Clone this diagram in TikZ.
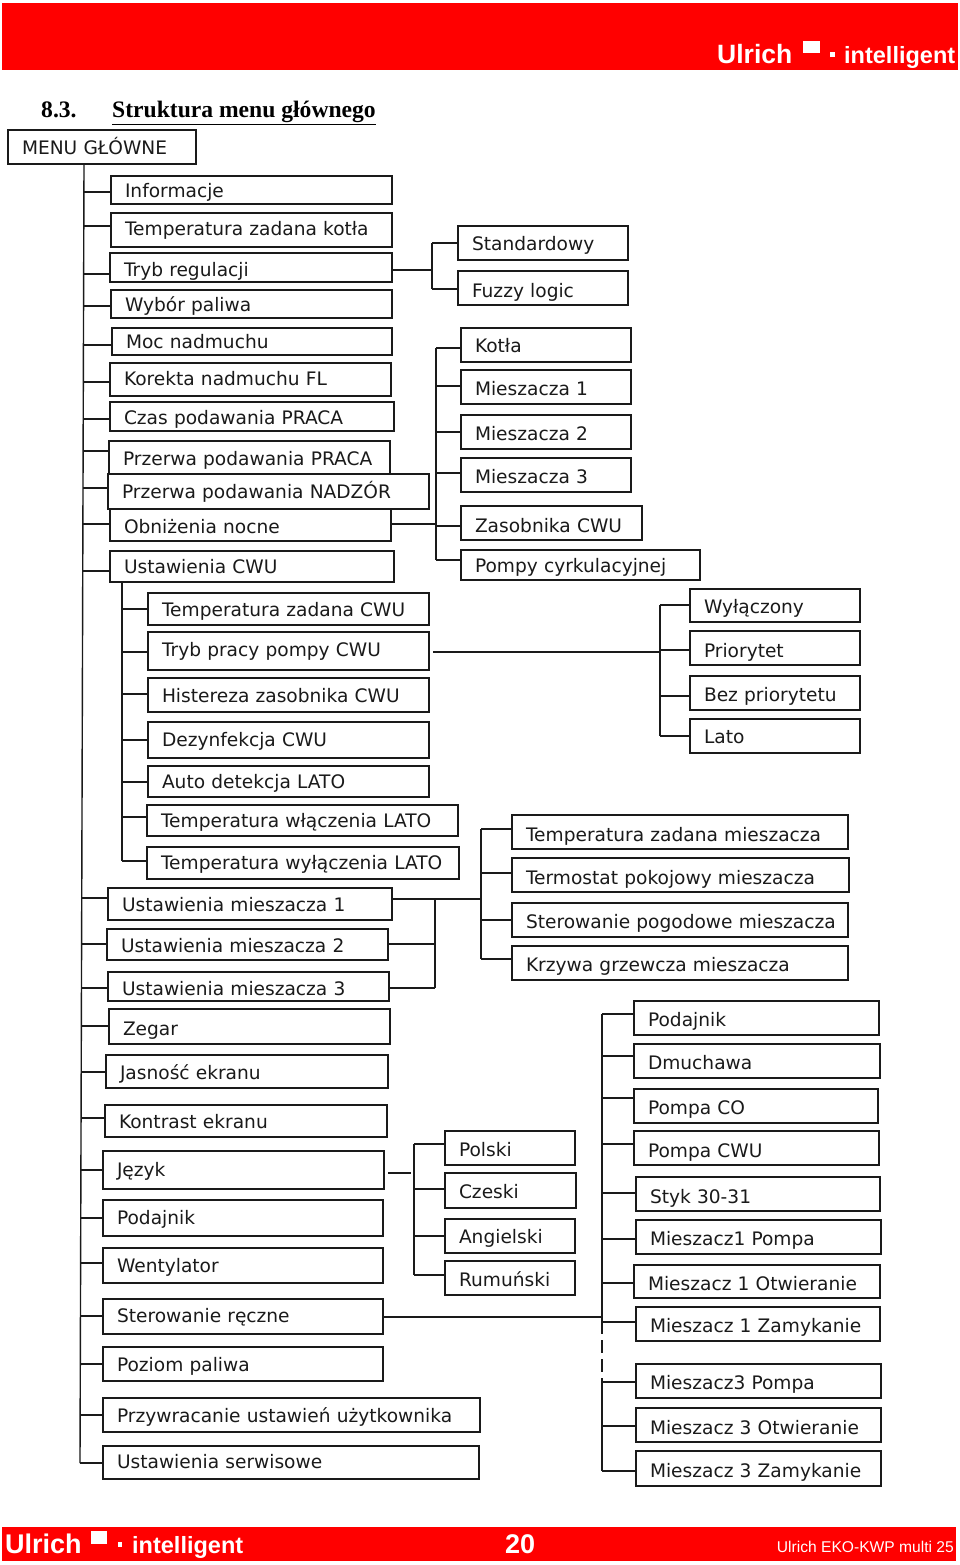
\documentclass[tikz,border=0pt]{standalone}
\usepackage{fontspec}
\setmainfont{DejaVu Sans}
\newfontfamily\arialfont{Liberation Sans}
\newfontfamily\timesfont{Liberation Serif}
\usetikzlibrary{calc,positioning}
\definecolor{ulrichred}{HTML}{FF0000}
\definecolor{boxline}{HTML}{1A1A1A}
\tikzset{
 menubox/.style={draw=boxline,line width=1.6pt,fill=white,rectangle,anchor=west,outer sep=0pt,inner ysep=0pt,inner xsep=14pt,align=left,
  font=\fontsize{18.6}{20}\selectfont,text=boxline,text depth=4pt},
 conn/.style={draw=boxline,line width=1.4pt},
 band/.style={fill=ulrichred,draw=none},
 logotext/.style={anchor=base west,text=white,inner sep=0pt},
}
% name, left, top, right, bottom, baseline, text
\newcommand{\menubox}[7]{\node[menubox,minimum height={(#5-#3)*1pt},text width={(#4-#2-28)*1pt},text height={(2*(#6-(#3+#5)/2)+4)*1pt}] (#1) at (#2,{(#3+#5)/2}) {\mbox{#7}};}
\begin{document}
\begin{tikzpicture}[x=1pt,y=-1pt]
 \useasboundingbox (0,0) rectangle (960,1565);
 \fill[white] (0,0) rectangle (960,1565);

 \fill[band] (2,3) rectangle (958,70);
 \node[logotext,font=\arialfont\bfseries\fontsize{26.5}{28}\selectfont] (ulrichtop) at (717,64) {Ulrich};
 \fill[white] (803,41) rectangle (820,53);
 \fill[white] (830,52) rectangle (835,57);
 \node[logotext,font=\arialfont\bfseries\fontsize{23.5}{26}\selectfont] (inteltop) at (844,64) {intelligent};

 \node[anchor=base west,inner sep=0pt,font=\timesfont\bfseries\fontsize{23.6}{26}\selectfont] (nrrozdz) at (41,118) {8.3.};
 \node[anchor=base west,inner sep=0pt,font=\timesfont\bfseries\fontsize{23.6}{26}\selectfont] (tytul) at (112,118) {\underline{Struktura menu głównego}};

 \menubox{menu}{8}{130}{196}{164}{155}{MENU GŁÓWNE}
 \menubox{informacje}{111}{176}{392}{204}{197}{Informacje}
 \menubox{tempkotla}{111}{213}{392}{247}{235}{Temperatura zadana kotła}
 \menubox{tryb}{110}{253}{392}{282}{276}{Tryb regulacji}
 \menubox{paliwo}{111}{290}{392}{318}{311}{Wybór paliwa}
 \menubox{moc}{112}{328}{392}{355}{348}{Moc nadmuchu}
 \menubox{korekta}{110}{363}{391}{396}{385}{Korekta nadmuchu FL}
 \menubox{czas}{110}{402}{394}{431}{424}{Czas podawania PRACA}
 \menubox{przerwa}{109}{441}{390}{475}{465}{Przerwa podawania PRACA}
 \menubox{nadzor}{108}{474}{429}{509}{498}{Przerwa podawania NADZÓR}
 \menubox{nocne}{110}{509}{391}{541}{533}{Obniżenia nocne}
 \menubox{cwu}{110}{551}{394}{582}{573}{Ustawienia CWU}
 \menubox{tempcwu}{148}{593}{429}{625}{616}{Temperatura zadana CWU}
 \menubox{pompacwu}{148}{632}{429}{670}{656}{Tryb pracy pompy CWU}
 \menubox{histereza}{148}{678}{429}{712}{702}{Histereza zasobnika CWU}
 \menubox{dezynf}{148}{722}{429}{758}{746}{Dezynfekcja CWU}
 \menubox{auto}{148}{766}{429}{797}{788}{Auto detekcja LATO}
 \menubox{latoon}{147}{805}{458}{836}{827}{Temperatura włączenia LATO}
 \menubox{latooff}{147}{847}{459}{879}{869}{Temperatura wyłączenia LATO}
 \menubox{miesa}{108}{888}{392}{920}{911}{Ustawienia mieszacza 1}
 \menubox{miesb}{107}{929}{388}{960}{952}{Ustawienia mieszacza 2}
 \menubox{miesc}{108}{972}{389}{1001}{995}{Ustawienia mieszacza 3}
 \menubox{zegar}{109}{1009}{390}{1044}{1035}{Zegar}
 \menubox{jasnosc}{106}{1055}{388}{1088}{1079}{Jasność ekranu}
 \menubox{kontrast}{105}{1105}{387}{1137}{1128}{Kontrast ekranu}
 \menubox{jezyk}{103}{1151}{384}{1189}{1176}{Język}
 \menubox{podajnik}{103}{1200}{383}{1236}{1224}{Podajnik}
 \menubox{wentylator}{103}{1248}{383}{1283}{1272}{Wentylator}
 \menubox{reczne}{103}{1299}{383}{1334}{1322}{Sterowanie ręczne}
 \menubox{poziom}{103}{1347}{383}{1381}{1371}{Poziom paliwa}
 \menubox{przywr}{103}{1398}{480}{1432}{1422}{Przywracanie ustawień użytkownika}
 \menubox{serwis}{103}{1446}{479}{1479}{1468}{Ustawienia serwisowe}

 \menubox{standard}{458}{226}{628}{260}{250}{Standardowy}
 \menubox{fuzzy}{458}{271}{628}{305}{297}{Fuzzy logic}

 \menubox{kotla}{461}{328}{631}{362}{352}{Kotła}
 \menubox{mieszi}{461}{370}{631}{404}{395}{Mieszacza 1}
 \menubox{mieszii}{461}{415}{631}{449}{440}{Mieszacza 2}
 \menubox{mesziii}{461}{458}{631}{492}{483}{Mieszacza 3}
 \menubox{zasobnik}{461}{506}{642}{540}{532}{Zasobnika CWU}
 \menubox{cyrkul}{461}{550}{700}{580}{572}{Pompy cyrkulacyjnej}

 \menubox{wylaczony}{690}{589}{860}{622}{613}{Wyłączony}
 \menubox{priorytet}{690}{631}{860}{665}{657}{Priorytet}
 \menubox{bezprio}{690}{676}{860}{710}{701}{Bez priorytetu}
 \menubox{lato}{690}{719}{860}{753}{743}{Lato}

 \menubox{zadmiesz}{512}{815}{848}{849}{841}{Temperatura zadana mieszacza}
 \menubox{termostat}{512}{858}{849}{892}{884}{Termostat pokojowy mieszacza}
 \menubox{pogodowe}{512}{903}{848}{937}{928}{Sterowanie pogodowe mieszacza}
 \menubox{krzywa}{512}{946}{848}{980}{971}{Krzywa grzewcza mieszacza}

 \menubox{polski}{445}{1131}{575}{1165}{1156}{Polski}
 \menubox{czeski}{445}{1173}{576}{1208}{1198}{Czeski}
 \menubox{angielski}{445}{1219}{575}{1253}{1243}{Angielski}
 \menubox{rumunski}{445}{1261}{575}{1295}{1286}{Rumuński}

 \menubox{rpodajnik}{634}{1001}{879}{1035}{1026}{Podajnik}
 \menubox{rdmuchawa}{634}{1044}{880}{1078}{1069}{Dmuchawa}
 \menubox{rpompaco}{634}{1089}{878}{1123}{1114}{Pompa CO}
 \menubox{rpompacwu}{634}{1131}{879}{1165}{1157}{Pompa CWU}
 \menubox{rstyk}{636}{1177}{880}{1211}{1203}{Styk 30-31}
 \menubox{raporpa}{636}{1220}{881}{1254}{1245}{Mieszacz1 Pompa}
 \menubox{raotw}{634}{1265}{880}{1298}{1290}{Mieszacz 1 Otwieranie}
 \menubox{razam}{636}{1307}{880}{1341}{1332}{Mieszacz 1 Zamykanie}
 \menubox{rcpompa}{636}{1364}{881}{1398}{1389}{Mieszacz3 Pompa}
 \menubox{rcotw}{636}{1408}{881}{1442}{1434}{Mieszacz 3 Otwieranie}
 \menubox{rczam}{636}{1451}{881}{1486}{1477}{Mieszacz 3 Zamykanie}

 \coordinate (trunkend) at (80,1463);
 \draw[conn] (menu.south -| 84,0) -- (trunkend);
 \foreach \nm/\by in {informacje/192,tempkotla/226,tryb/274,paliwo/306,moc/345,korekta/382,czas/419,przerwa/451,nadzor/488,nocne/524,cwu/571,miesa/898,miesb/944,miesc/988,zegar/1026,jasnosc/1072,kontrast/1118,jezyk/1170,podajnik/1218,wentylator/1263,reczne/1316,poziom/1364,przywr/1415,serwis/1463}{
  \pgfmathsetmacro\tx{84-4*(\by-164)/1299}
  \coordinate (t\nm) at (\tx,\by);
  \draw[conn] (\nm.west |- t\nm) -- (t\nm);
 }

 \coordinate (cwuend) at (122,861);
 \draw[conn] (cwu.south -| cwuend) -- (cwuend);
 \foreach \nm/\by in {tempcwu/609,pompacwu/652,histereza/694,dezynf/740,auto/782,latoon/817,latooff/861}
  \draw[conn] (\nm.west |- 0,\by) -- (122,\by);

 \coordinate (regtop) at (432,243);
 \coordinate (regbot) at (432,289);
 \draw[conn] (regtop) -- (regbot);
 \draw[conn] (tryb.east |- 0,270) -- (432,270);
 \draw[conn] (standard.west |- regtop) -- (regtop);
 \draw[conn] (fuzzy.west |- regbot) -- (regbot);

 \coordinate (obntop) at (436,348);
 \coordinate (obnbot) at (436,560);
 \draw[conn] (obntop) -- (obnbot);
 \draw[conn] (nocne.east |- 0,524) -- (436,524);
 \foreach \nm/\by in {kotla/348,mieszi/386,mieszii/432,mesziii/473,zasobnik/526,cyrkul/560}
  \draw[conn] (\nm.west |- 0,\by) -- (436,\by);

 \coordinate (pomptop) at (660,605);
 \coordinate (pompbot) at (660,736);
 \draw[conn] (pomptop) -- (pompbot);
 \draw[conn] (pompacwu.east |- 0,652) ++(4,0) -- (660,652);
 \foreach \nm/\by in {wylaczony/605,priorytet/650,bezprio/696,lato/736}
  \draw[conn] (\nm.west |- 0,\by) -- (660,\by);

 \coordinate (miestop) at (481,829);
 \coordinate (miesbot) at (481,959);
 \draw[conn] (miestop) -- (miesbot);
 \draw[conn] (miesa.east |- 0,899) -- (481,899);
 \foreach \nm/\by in {zadmiesz/829,termostat/873,pogodowe/920,krzywa/959}
  \draw[conn] (\nm.west |- 0,\by) -- (481,\by);

 \coordinate (laczbot) at (435,988);
 \draw[conn] (435,899) -- (laczbot);
 \draw[conn] (miesb.east |- 0,944) -- (435,944);
 \draw[conn] (miesc.east |- laczbot) -- (laczbot);

 \coordinate (jeztop) at (414,1144);
 \coordinate (jezbot) at (414,1275);
 \draw[conn] (jeztop) -- (jezbot);
 \draw[conn] (jezyk.east |- 0,1173) ++(4,0) -- (411,1173);
 \foreach \nm/\by in {polski/1144,czeski/1189,angielski/1236,rumunski/1275}
  \draw[conn] (\nm.west |- 0,\by) -- (414,\by);

 \coordinate (serwtop) at (602,1014);
 \coordinate (serwbot) at (602,1471);
 \draw[conn] (serwtop) -- (602,1334);
 \draw[conn,dash pattern=on 13pt off 6pt] (602,1340) -- (602,1382);
 \draw[conn] (602,1382) -- (serwbot);
 \draw[conn] (reczne.east |- 0,1317) -- (602,1317);
 \foreach \nm/\by in {rpodajnik/1014,rdmuchawa/1056,rpompaco/1098,rpompacwu/1144,rstyk/1193,raporpa/1239,raotw/1283,razam/1322,rcpompa/1382,rcotw/1426,rczam/1471}
  \draw[conn] (\nm.west |- 0,\by) -- (602,\by);

 \fill[band] (2,1527) rectangle (956,1561);
 \node[logotext,font=\arialfont\bfseries\fontsize{27}{28}\selectfont] (ulrichbot) at (5,1553) {Ulrich};
 \fill[white] (91,1531) rectangle (107,1544);
 \fill[white] (118,1542) rectangle (122,1547);
 \node[logotext,font=\arialfont\bfseries\fontsize{23.5}{26}\selectfont] (intelbot) at (132,1553) {intelligent};
 \node[logotext,font=\arialfont\bfseries\fontsize{27}{28}\selectfont] (strona) at (505,1553) {20};
 \node[logotext,anchor=base east,font=\arialfont\fontsize{15.6}{18}\selectfont] (model) at (954,1552) {Ulrich EKO-KWP multi 25};
\end{tikzpicture}
\end{document}
